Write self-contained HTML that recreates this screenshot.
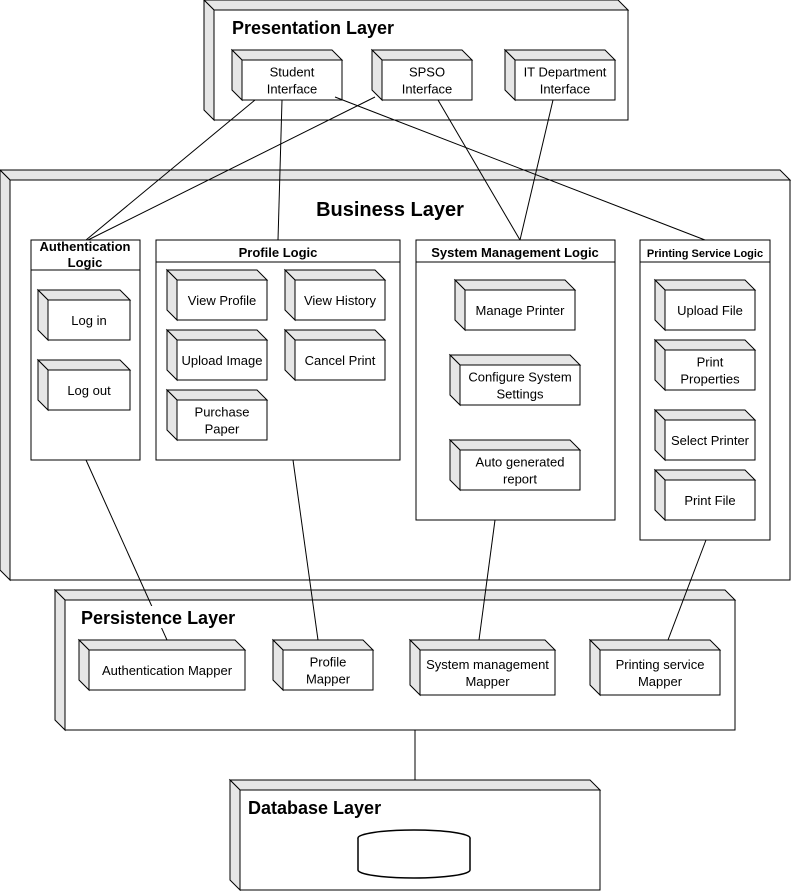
<!DOCTYPE html>
<html><head><meta charset="utf-8"><style>
html,body{margin:0;padding:0;background:#fff}
text{font-family:"Liberation Sans",Arial,sans-serif;fill:#000}
.t{font-size:13px;text-anchor:middle}
.h{font-size:18px;font-weight:bold}
.b{font-size:13px;font-weight:bold;text-anchor:middle}
.s polygon{fill:#e6e6e6;stroke:#000;stroke-width:1}
.s rect{fill:#fff;stroke:#000;stroke-width:1}
line{stroke:#000;stroke-width:1}
</style></head><body>
<svg width="792" height="891" xmlns="http://www.w3.org/2000/svg">
<g class="s" id="nodes"></g>
<g id="lines"></g>
<g id="labels"></g>
</svg>
<script>
var N=[
[204,0,424,120,""],
[232,50,110,50,"Student|Interface"],
[372,50,100,50,"SPSO|Interface"],
[505,50,110,50,"IT Department|Interface"],
[0,170,790,410,""],
[55,590,680,140,""],
[79,640,166,50,"Authentication Mapper"],
[273,640,100,50,"Profile|Mapper"],
[410,640,145,55,"System management|Mapper"],
[590,640,130,55,"Printing service|Mapper"],
[230,780,370,110,""]
];
var inner=[
[38,290,92,50,"Log in"],[38,360,92,50,"Log out"],
[167,270,100,50,"View Profile"],[285,270,100,50,"View History"],
[167,330,100,50,"Upload Image"],[285,330,100,50,"Cancel Print"],
[167,390,100,50,"Purchase|Paper"],
[455,280,120,50,"Manage Printer"],[450,355,130,50,"Configure System|Settings"],
[450,440,130,50,"Auto generated|report"],
[655,280,100,50,"Upload File"],[655,340,100,50,"Print|Properties"],
[655,410,100,50,"Select Printer"],[655,470,100,50,"Print File"]
];
function node(a){var x=a[0],y=a[1],w=a[2],h=a[3],d=10,o='';
o+='<polygon points="'+x+','+y+' '+(x+w-d)+','+y+' '+(x+w)+','+(y+d)+' '+(x+d)+','+(y+d)+'"/>';
o+='<polygon points="'+x+','+y+' '+(x+d)+','+(y+d)+' '+(x+d)+','+(y+h)+' '+x+','+(y+h-d)+'"/>';
o+='<rect x="'+(x+d)+'" y="'+(y+d)+'" width="'+(w-d)+'" height="'+(h-d)+'"/>';
if(a[4]){var L=a[4].split('|'),cx=x+d+(w-d)/2,cy=y+d+(h-d)/2;
for(var i=0;i<L.length;i++){o+='<text class="t" x="'+cx+'" y="'+(cy+5+(i-(L.length-1)/2)*17)+'">'+L[i]+'</text>';}}
return o;}
var out='';
for(var i=0;i<5;i++)out+=node(N[i]);
out+='<rect x="31" y="240" width="109" height="220"/><line x1="31" y1="270" x2="140" y2="270"/>';
out+='<rect x="156" y="240" width="244" height="220"/><line x1="156" y1="262" x2="400" y2="262"/>';
out+='<rect x="416" y="240" width="199" height="280"/><line x1="416" y1="262" x2="615" y2="262"/>';
out+='<rect x="640" y="240" width="130" height="300"/><line x1="640" y1="262" x2="770" y2="262"/>';
for(var i=0;i<inner.length;i++)out+=node(inner[i]);
for(var i=5;i<N.length;i++)out+=node(N[i]);
out+='<ellipse cx="414" cy="838" rx="56" ry="8" fill="#fff" stroke="#000" stroke-width="1.5"/>';
out+='<path d="M358,838 L358,870 A56,8 0 0 0 470,870 L470,838" fill="#fff" stroke="#000" stroke-width="1.5"/>';
document.getElementById('nodes').innerHTML=out;
var Ls=[[255,100,86,240],[282,100,278,240],[375,97,88,240],[335,97,705,240],[438,100,520,240],[553,100,520,240],
[86,460,167,640],[293,460,318,640],[495,520,479,640],[706,540,668,640],[415,730,415,780]];
var l='';for(var i=0;i<Ls.length;i++){var a=Ls[i];l+='<line x1="'+a[0]+'" y1="'+a[1]+'" x2="'+a[2]+'" y2="'+a[3]+'"/>';}
document.getElementById('lines').innerHTML=l;
var t='';
t+='<rect x="231" y="17" width="165" height="22" fill="#fff"/><text class="h" x="232" y="34">Presentation Layer</text>';
t+='<text class="h" x="390" y="216" text-anchor="middle" style="font-size:20px">Business Layer</text>';
t+='<rect x="80" y="606" width="156" height="22" fill="#fff"/><text class="h" x="81" y="624">Persistence Layer</text>';
t+='<rect x="247" y="796" width="135" height="22" fill="#fff"/><text class="h" x="248" y="814">Database Layer</text>';
t+='<text class="b" x="85" y="251">Authentication</text><text class="b" x="85" y="267">Logic</text>';
t+='<text class="b" x="278" y="257">Profile Logic</text>';
t+='<text class="b" x="515" y="257">System Management Logic</text>';
t+='<text class="b" x="705" y="257" style="font-size:11px">Printing Service Logic</text>';
document.getElementById('labels').innerHTML=t;
</script>
</body></html>
